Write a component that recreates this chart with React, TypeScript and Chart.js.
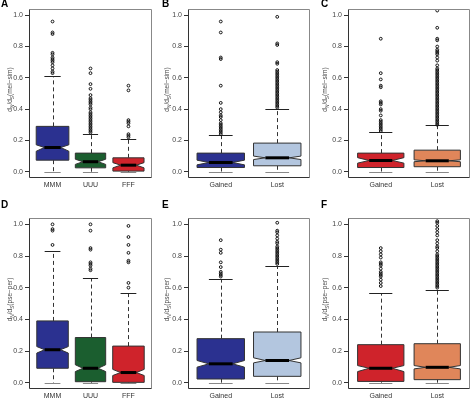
import React, { useEffect, useRef } from "react";
import { Chart, registerables } from "chart.js";
Chart.register(...registerables);

const yTickValues = [0, 0.2, 0.4, 0.6, 0.8, 1.0];

// ---- Panel A (mel-sim) ----
const aCats = ["MMM", "UUU", "FFF"];
const aLow = [0, 0, 0];
const aQ1 = [0.074, 0.025, 0.004];
const aMed = [0.155, 0.064, 0.042];
const aQ3 = [0.29, 0.119, 0.089];
const aHigh = [0.61, 0.239, 0.212];
const aNotchLo = [0.131, 0.047, 0.025];
const aNotchHi = [0.172, 0.08, 0.058];
const aOut = [
  [0.96, 0.89, 0.88, 0.76, 0.75, 0.73, 0.72, 0.71, 0.7, 0.68, 0.66, 0.64, 0.63],
  [0.66, 0.63, 0.56, 0.53, 0.49, 0.47, 0.46, 0.45, 0.44, 0.43, 0.41, 0.4, 0.38, 0.37, 0.36, 0.35, 0.34, 0.33, 0.32, 0.31, 0.3, 0.29, 0.28, 0.27, 0.26, 0.25],
  [0.55, 0.52, 0.33, 0.32, 0.31, 0.29, 0.24, 0.23, 0.22],
];

// ---- Panel B (mel-sim) ----
const bCats = ["Gained", "Lost"];
const bLow = [0, 0];
const bQ1 = [0.027, 0.038];
const bMed = [0.059, 0.089];
const bQ3 = [0.119, 0.183];
const bHigh = [0.236, 0.4];
const bNotchLo = [0.044, 0.078];
const bNotchHi = [0.074, 0.1];
const bOut = [
  [0.96, 0.89, 0.73, 0.72, 0.55, 0.44, 0.4, 0.38, 0.36, 0.35, 0.33, 0.31, 0.3, 0.29, 0.28, 0.27, 0.26, 0.25, 0.24],
  [0.99, 0.82, 0.81, 0.7, 0.69, 0.65, 0.64, 0.63, 0.62, 0.61, 0.6, 0.59, 0.58, 0.57, 0.56, 0.55, 0.54, 0.53, 0.52, 0.51, 0.5, 0.49, 0.48, 0.47, 0.46, 0.45, 0.44, 0.43, 0.42, 0.41],
];

// ---- Panel C (mel-sim) ----
const cCats = ["Gained", "Lost"];
const cLow = [0, 0];
const cQ1 = [0.027, 0.032];
const cMed = [0.072, 0.07];
const cQ3 = [0.119, 0.138];
const cHigh = [0.253, 0.297];
const cNotchLo = [0.055, 0.064];
const cNotchHi = [0.09, 0.076];
const cOut = [
  [0.85, 0.63, 0.59, 0.55, 0.54, 0.45, 0.44, 0.43, 0.4, 0.39, 0.36, 0.33, 0.32, 0.31, 0.3, 0.29, 0.28, 0.27, 0.26],
  [1.03, 0.92, 0.85, 0.84, 0.8, 0.78, 0.77, 0.76, 0.75, 0.73, 0.71, 0.68, 0.66, 0.65, 0.64, 0.63, 0.62, 0.61, 0.6, 0.59, 0.58, 0.57, 0.56, 0.55, 0.54, 0.53, 0.52, 0.51, 0.5, 0.49, 0.48, 0.47, 0.46, 0.45, 0.44, 0.43, 0.42, 0.41, 0.4, 0.39, 0.38, 0.37, 0.36, 0.35, 0.34, 0.33, 0.32, 0.31, 0.3],
];

// ---- Panel D (pse-per) ----
const dCats = ["MMM", "UUU", "FFF"];
const dLow = [0, 0, 0];
const dQ1 = [0.091, 0.006, 0.002];
const dMed = [0.208, 0.091, 0.064];
const dQ3 = [0.39, 0.285, 0.231];
const dHigh = [0.83, 0.66, 0.565];
const dNotchLo = [0.187, 0.07, 0.045];
const dNotchHi = [0.228, 0.113, 0.084];
const dOut = [
  [1.0, 0.97, 0.96, 0.87],
  [1.0, 0.96, 0.85, 0.84, 0.76, 0.75, 0.74, 0.72, 0.71],
  [0.99, 0.92, 0.87, 0.82, 0.77, 0.76, 0.63, 0.6],
];

// ---- Panel E (pse-per) ----
const eCats = ["Gained", "Lost"];
const eLow = [0, 0];
const eQ1 = [0.023, 0.04];
const eMed = [0.119, 0.14];
const eQ3 = [0.278, 0.32];
const eHigh = [0.655, 0.735];
const eNotchLo = [0.098, 0.125];
const eNotchHi = [0.14, 0.157];
const eOut = [
  [0.9, 0.84, 0.82, 0.76, 0.73, 0.7, 0.69, 0.68, 0.67],
  [1.01, 0.96, 0.95, 0.93, 0.91, 0.89, 0.88, 0.86, 0.85, 0.84, 0.83, 0.82, 0.81, 0.8, 0.79, 0.78, 0.77, 0.76, 0.75],
];

// ---- Panel F (pse-per) ----
const fCats = ["Gained", "Lost"];
const fLow = [0, 0];
const fQ1 = [0.008, 0.019];
const fMed = [0.091, 0.097];
const fQ3 = [0.24, 0.246];
const fHigh = [0.565, 0.585];
const fNotchLo = [0.07, 0.087];
const fNotchHi = [0.108, 0.108];
const fOut = [
  [0.85, 0.83, 0.81, 0.79, 0.76, 0.75, 0.74, 0.72, 0.7, 0.69, 0.68, 0.67, 0.65, 0.63, 0.61],
  [1.02, 1.01, 0.99, 0.97, 0.95, 0.93, 0.9, 0.88, 0.86, 0.85, 0.83, 0.81, 0.8, 0.79, 0.78, 0.77, 0.76, 0.75, 0.74, 0.73, 0.72, 0.71, 0.7, 0.69, 0.68, 0.67, 0.66, 0.65, 0.64, 0.63, 0.62, 0.61, 0.6],
];

const BLUE = "#2B3190";
const GREEN = "#1B5E2F";
const RED = "#CF232B";
const LIGHTBLUE = "#B3C6DF";
const ORANGE = "#E0865A";

type PanelCfg = {
  letter: string;
  cats: string[];
  low: number[];
  q1: number[];
  med: number[];
  q3: number[];
  high: number[];
  nlo: number[];
  nhi: number[];
  out: number[][];
  colors: string[];
  widths: number[];
  title: string;
  cell: { x: number; y: number; w: number; h: number };
  area: { l: number; r: number; t: number; b: number };
  letterPos: { x: number; y: number };
  titleX: number;
};

const panels: PanelCfg[] = [
  {
    letter: "A", cats: aCats, low: aLow, q1: aQ1, med: aMed, q3: aQ3, high: aHigh, nlo: aNotchLo, nhi: aNotchHi, out: aOut,
    colors: [BLUE, GREEN, RED], widths: [0.86, 0.8, 0.82], title: "(mel\u2212sim)",
    cell: { x: 0, y: 0, w: 157, h: 200 }, area: { l: 29, r: 154, t: 9, b: 178 }, letterPos: { x: 1, y: 7 }, titleX: 10,
  },
  {
    letter: "B", cats: bCats, low: bLow, q1: bQ1, med: bMed, q3: bQ3, high: bHigh, nlo: bNotchLo, nhi: bNotchHi, out: bOut,
    colors: [BLUE, LIGHTBLUE], widths: [0.84, 0.84], title: "(mel\u2212sim)",
    cell: { x: 157, y: 0, w: 159, h: 200 }, area: { l: 188, r: 310, t: 9, b: 178 }, letterPos: { x: 162, y: 7 }, titleX: 167,
  },
  {
    letter: "C", cats: cCats, low: cLow, q1: cQ1, med: cMed, q3: cQ3, high: cHigh, nlo: cNotchLo, nhi: cNotchHi, out: cOut,
    colors: [RED, ORANGE], widths: [0.82, 0.82], title: "(mel\u2212sim)",
    cell: { x: 316, y: 0, w: 159, h: 200 }, area: { l: 348, r: 474, t: 9, b: 178 }, letterPos: { x: 321, y: 7 }, titleX: 325,
  },
  {
    letter: "D", cats: dCats, low: dLow, q1: dQ1, med: dMed, q3: dQ3, high: dHigh, nlo: dNotchLo, nhi: dNotchHi, out: dOut,
    colors: [BLUE, GREEN, RED], widths: [0.83, 0.8, 0.83], title: "(pse\u2212per)",
    cell: { x: 0, y: 200, w: 157, h: 200 }, area: { l: 29, r: 154, t: 218, b: 389 }, letterPos: { x: 1, y: 208 }, titleX: 10,
  },
  {
    letter: "E", cats: eCats, low: eLow, q1: eQ1, med: eMed, q3: eQ3, high: eHigh, nlo: eNotchLo, nhi: eNotchHi, out: eOut,
    colors: [BLUE, LIGHTBLUE], widths: [0.84, 0.84], title: "(pse\u2212per)",
    cell: { x: 157, y: 200, w: 159, h: 200 }, area: { l: 188, r: 310, t: 218, b: 389 }, letterPos: { x: 162, y: 208 }, titleX: 167,
  },
  {
    letter: "F", cats: fCats, low: fLow, q1: fQ1, med: fMed, q3: fQ3, high: fHigh, nlo: fNotchLo, nhi: fNotchHi, out: fOut,
    colors: [RED, ORANGE], widths: [0.82, 0.82], title: "(pse\u2212per)",
    cell: { x: 316, y: 200, w: 159, h: 200 }, area: { l: 348, r: 474, t: 218, b: 389 }, letterPos: { x: 321, y: 208 }, titleX: 325,
  },
];

const FONT = "'Liberation Sans', Arial, sans-serif";

function Panel({ cfg }: { cfg: PanelCfg }) {
  const ref = useRef<HTMLCanvasElement | null>(null);
  useEffect(() => {
    const canvas = ref.current;
    if (!canvas) return;
    const n = cfg.cats.length;
    const xmin = 0.5 - 0.04 * n;
    const xmax = n + 0.5 + 0.04 * n;
    const { cell, area } = cfg;
    const yW = area.l - cell.x;
    const padTop = area.t - cell.y;
    const padRight = cell.x + cell.w - area.r;
    const xH = cell.y + cell.h - area.b;

    const points: { x: number; y: number }[] = [];
    cfg.out.forEach((arr, i) => arr.forEach((v) => points.push({ x: i + 1, y: v })));

    const boxPlugin = {
      id: "boxes",
      beforeDatasetsDraw(chart: any) {
        const ctx = chart.ctx as CanvasRenderingContext2D;
        const xs = chart.scales.x;
        const ys = chart.scales.y;
        ctx.save();
        for (let i = 0; i < n; i++) {
          const c = xs.getPixelForValue(i + 1);
          const hw = xs.getPixelForValue(i + 1 + cfg.widths[i] / 2) - c;
          const nw = hw * 0.5;
          const py = (v: number) => ys.getPixelForValue(v);
          ctx.strokeStyle = "#333";
          ctx.lineWidth = 1;
          ctx.setLineDash([4, 3]);
          const cx = Math.round(c) + 0.5;
          ctx.beginPath();
          ctx.moveTo(cx, py(cfg.q3[i]));
          ctx.lineTo(cx, py(cfg.high[i]));
          ctx.moveTo(cx, py(cfg.q1[i]));
          ctx.lineTo(cx, py(cfg.low[i]));
          ctx.stroke();
          ctx.setLineDash([]);
          ctx.strokeStyle = "#222";
          ctx.beginPath();
          ctx.moveTo(c - hw / 2, Math.round(py(cfg.high[i])) + 0.5);
          ctx.lineTo(c + hw / 2, Math.round(py(cfg.high[i])) + 0.5);
          ctx.stroke();
          ctx.strokeStyle = "#888";
          ctx.beginPath();
          ctx.moveTo(c - hw / 2, Math.round(py(cfg.low[i])) + 0.5);
          ctx.lineTo(c + hw / 2, Math.round(py(cfg.low[i])) + 0.5);
          ctx.stroke();
          ctx.beginPath();
          ctx.moveTo(c - hw, py(cfg.q1[i]));
          ctx.lineTo(c - hw, py(cfg.nlo[i]));
          ctx.lineTo(c - nw, py(cfg.med[i]));
          ctx.lineTo(c - hw, py(cfg.nhi[i]));
          ctx.lineTo(c - hw, py(cfg.q3[i]));
          ctx.lineTo(c + hw, py(cfg.q3[i]));
          ctx.lineTo(c + hw, py(cfg.nhi[i]));
          ctx.lineTo(c + nw, py(cfg.med[i]));
          ctx.lineTo(c + hw, py(cfg.nlo[i]));
          ctx.lineTo(c + hw, py(cfg.q1[i]));
          ctx.closePath();
          ctx.fillStyle = cfg.colors[i];
          ctx.fill();
          ctx.strokeStyle = "#333";
          ctx.lineWidth = 1;
          ctx.stroke();
          ctx.strokeStyle = "#000";
          ctx.lineWidth = 3;
          ctx.beginPath();
          ctx.moveTo(c - nw, py(cfg.med[i]));
          ctx.lineTo(c + nw, py(cfg.med[i]));
          ctx.stroke();
        }
        ctx.restore();
      },
      afterDraw(chart: any) {
        const ctx = chart.ctx as CanvasRenderingContext2D;
        const a = chart.chartArea;
        ctx.save();
        ctx.lineWidth = 1;
        ctx.strokeStyle = "#888";
        ctx.beginPath();
        ctx.moveTo(a.left + 0.5, a.top + 0.5);
        ctx.lineTo(a.right - 0.5, a.top + 0.5);
        ctx.lineTo(a.right - 0.5, a.bottom - 0.5);
        ctx.stroke();
        ctx.strokeStyle = "#333";
        ctx.beginPath();
        ctx.moveTo(a.left + 0.5, a.top + 0.5);
        ctx.lineTo(a.left + 0.5, a.bottom - 0.5);
        ctx.lineTo(a.right - 0.5, a.bottom - 0.5);
        ctx.stroke();
        ctx.fillStyle = "#000";
        ctx.font = `bold 10px ${FONT}`;
        ctx.textAlign = "left";
        ctx.textBaseline = "alphabetic";
        ctx.fillText(cfg.letter, cfg.letterPos.x - cell.x, cfg.letterPos.y - cell.y);
        const big = `6.5px ${FONT}`;
        const small = `4.8px ${FONT}`;
        const parts: [string, boolean][] = [["d", false], ["N", true], ["/d", false], ["S", true], [cfg.title, false]];
        let total = 0;
        for (const [t, sub] of parts) {
          ctx.font = sub ? small : big;
          total += ctx.measureText(t).width;
        }
        const cy = (a.top + a.bottom) / 2 - 4;
        ctx.translate(cfg.titleX - cell.x + 2, cy);
        ctx.rotate(-Math.PI / 2);
        ctx.fillStyle = "#444";
        let x0 = -total / 2;
        for (const [t, sub] of parts) {
          ctx.font = sub ? small : big;
          ctx.fillText(t, x0, sub ? 1.5 : 0);
          x0 += ctx.measureText(t).width;
        }
        ctx.restore();
      },
    };

    const chart = new Chart(canvas, {
      type: "scatter",
      data: {
        datasets: [
          {
            data: points,
            pointStyle: "circle",
            pointRadius: 1.4,
            pointBorderWidth: 1,
            pointBorderColor: "#111",
            pointBackgroundColor: "rgba(255,255,255,0)",
            showLine: false,
          } as any,
        ],
      },
      options: {
        animation: false,
        responsive: false,
        events: [],
        layout: { padding: { left: 0, top: padTop, right: padRight, bottom: 0 } },
        plugins: { legend: { display: false }, tooltip: { enabled: false }, title: { display: false } },
        scales: {
          x: {
            type: "linear",
            min: xmin,
            max: xmax,
            grid: { display: false, drawTicks: false, tickLength: 0 },
            border: { display: false },
            afterBuildTicks: (s: any) => {
              s.ticks = cfg.cats.map((_, i) => ({ value: i + 1 }));
            },
            afterFit: (s: any) => {
              s.height = xH;
            },
            ticks: {
              autoSkip: false,
              maxRotation: 0,
              padding: 3,
              color: "#333",
              font: { family: FONT, size: 7 },
              callback: (v: any) => cfg.cats[Math.round(Number(v)) - 1] ?? "",
            },
          },
          y: {
            type: "linear",
            min: -0.04,
            max: 1.04,
            grid: { display: true, drawOnChartArea: false, drawTicks: true, tickLength: 4, color: "#333" },
            border: { display: false },
            afterBuildTicks: (s: any) => {
              s.ticks = yTickValues.map((v) => ({ value: v }));
            },
            afterFit: (s: any) => {
              s.width = yW;
            },
            ticks: {
              padding: 2,
              color: "#444",
              font: { family: FONT, size: 7 },
              callback: (v: any) => Number(v).toFixed(1),
            },
          },
        },
      },
      plugins: [boxPlugin],
    } as any);
    return () => chart.destroy();
  }, [cfg]);

  return (
    <canvas
      ref={ref}
      width={cfg.cell.w}
      height={cfg.cell.h}
      style={{ position: "absolute", left: cfg.cell.x, top: cfg.cell.y, width: cfg.cell.w, height: cfg.cell.h }}
    />
  );
}

export default function App() {
  return (
    <div style={{ position: "absolute", left: 0, top: 0, width: 475, height: 400, background: "#fff" }}>
      {panels.map((p) => (
        <Panel key={p.letter} cfg={p} />
      ))}
    </div>
  );
}
